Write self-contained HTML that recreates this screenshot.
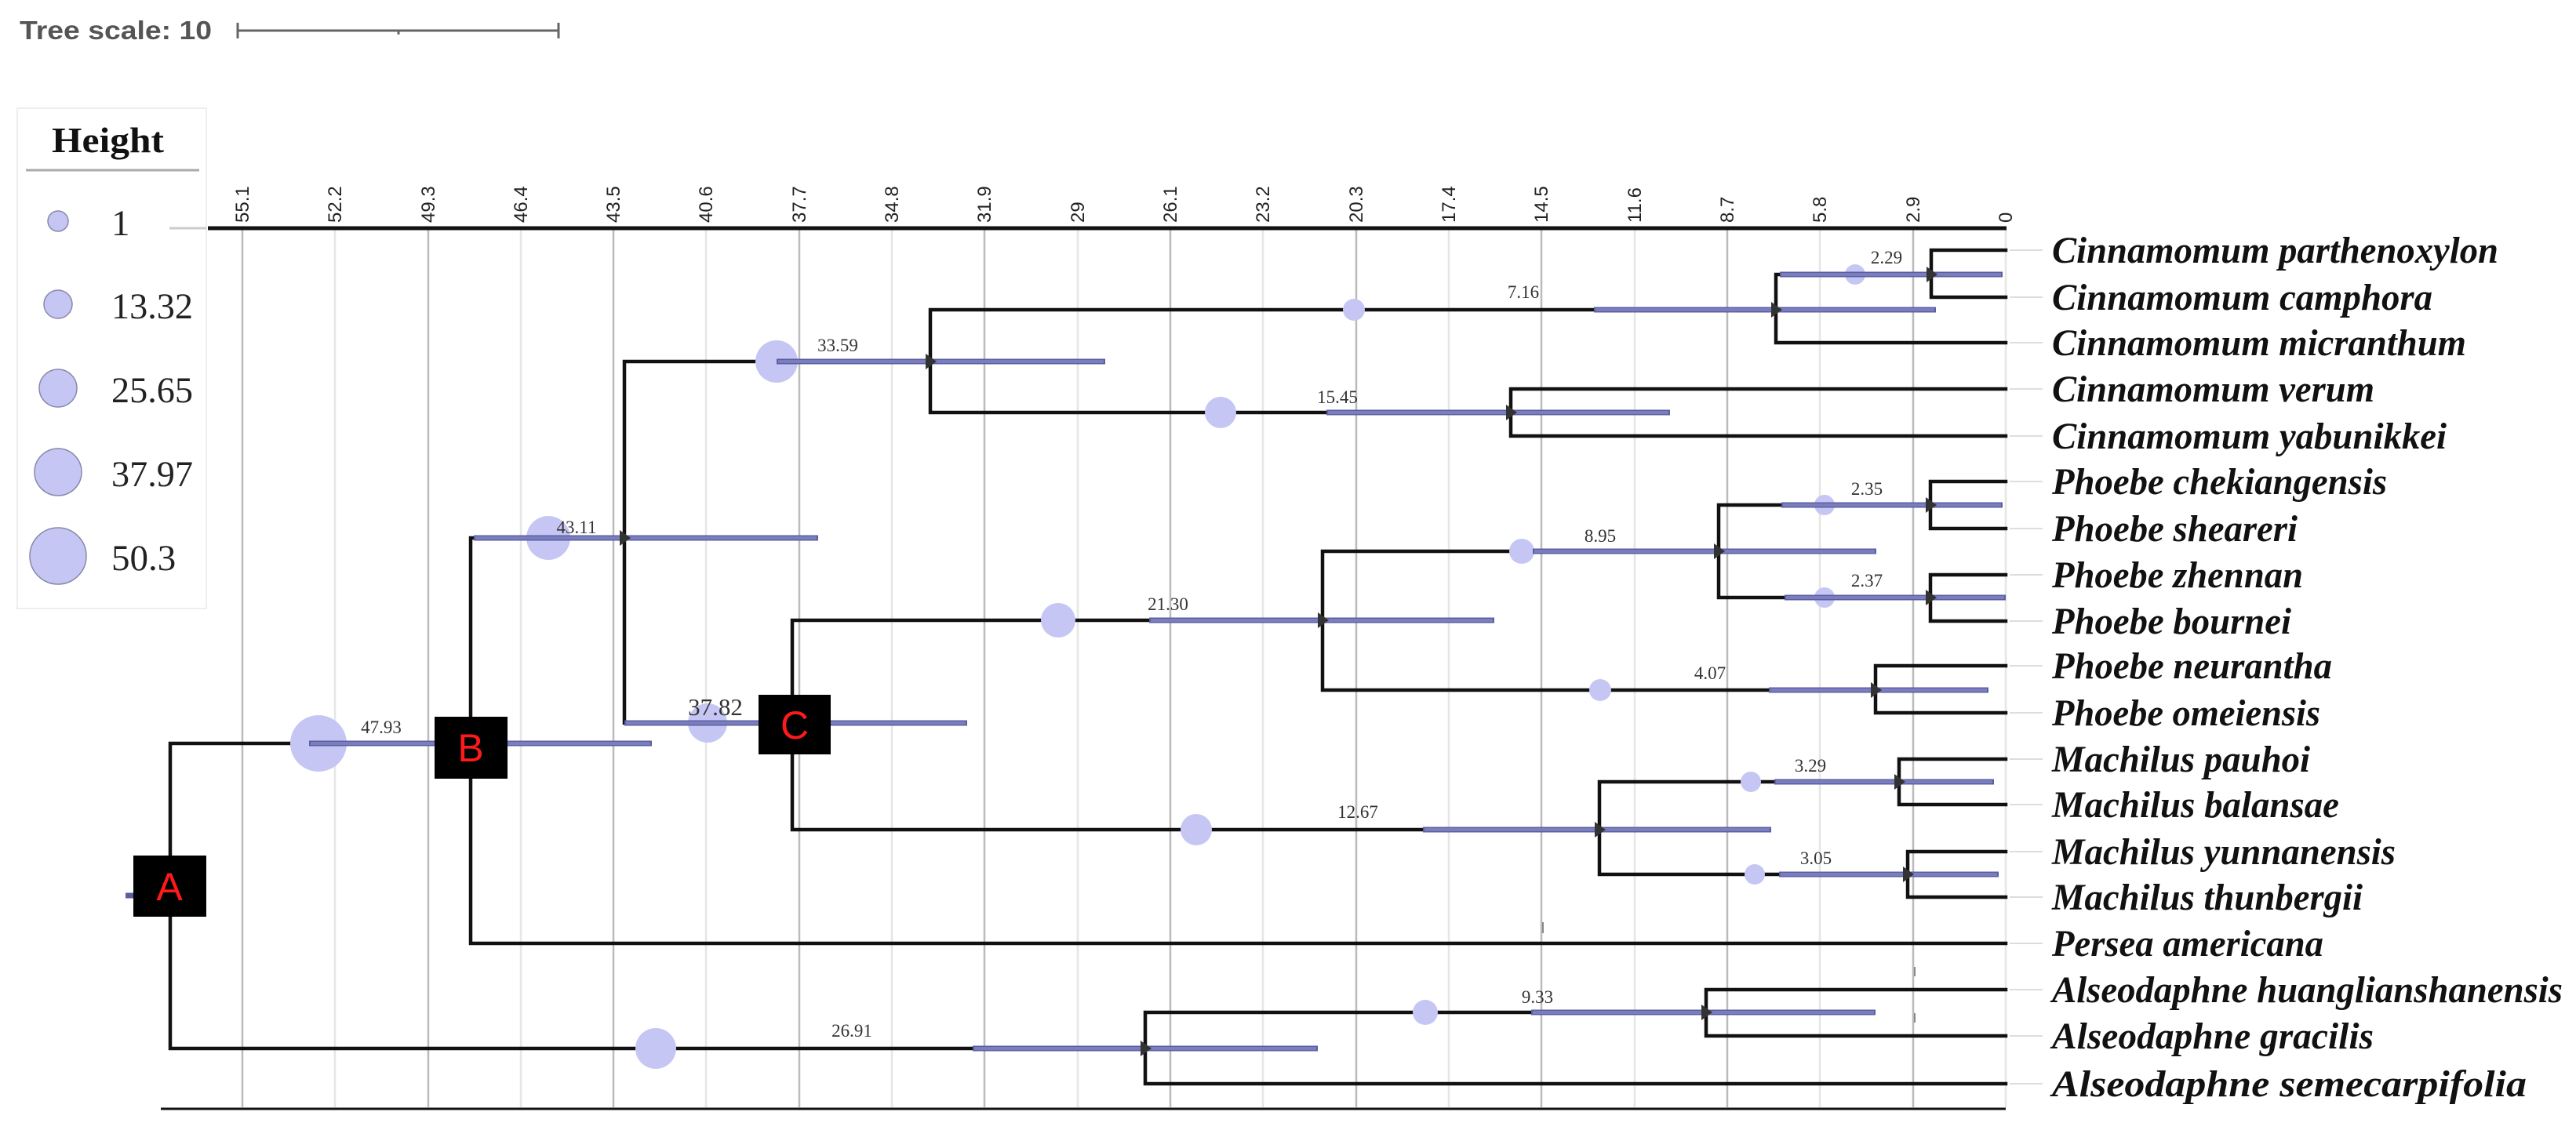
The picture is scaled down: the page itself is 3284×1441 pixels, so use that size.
<!DOCTYPE html>
<html><head><meta charset="utf-8"><style>
html,body{margin:0;padding:0;background:#fff}
svg{display:block}
.br{stroke:#111;stroke-width:4.5;fill:none;stroke-linecap:square}
.bar{stroke:#5c5f9e;stroke-width:7;fill:none}
.bar2{stroke:#7a7dc0;stroke-width:4;fill:none}
.cir{fill:#c6c6f4}
.nl{font-family:"Liberation Serif",serif;font-size:23px;fill:#333;text-anchor:middle}
.tax{font-family:"Liberation Serif",serif;font-weight:bold;font-style:italic;font-size:48px;fill:#111}
.ax{font-family:"Liberation Sans",sans-serif;font-size:24px;fill:#222}
.lg{font-family:"Liberation Serif",serif;font-size:47px;fill:#222}
.bx{font-family:"Liberation Sans",sans-serif;font-size:50px;fill:#ff1a1a;text-anchor:middle}
</style></head><body>
<svg width="3284" height="1441" viewBox="0 0 3284 1441" xmlns="http://www.w3.org/2000/svg">
<rect width="3284" height="1441" fill="#fff"/>
<!-- tree scale -->
<text x="25" y="50" font-family="Liberation Sans,sans-serif" font-weight="bold" font-size="33" fill="#555" textLength="245" lengthAdjust="spacingAndGlyphs">Tree scale: 10</text>
<g stroke="#666" stroke-width="3"><line x1="303" y1="39" x2="712" y2="39"/><line x1="303" y1="29" x2="303" y2="49"/><line x1="712" y1="29" x2="712" y2="49"/><line x1="508" y1="39" x2="508" y2="44"/></g>
<!-- legend -->
<rect x="22" y="138" width="241" height="638" fill="none" stroke="#eee" stroke-width="2"/>
<text x="66" y="194" font-family="Liberation Serif,serif" font-weight="bold" font-size="46" fill="#111" textLength="143" lengthAdjust="spacingAndGlyphs">Height</text>
<line x1="33" y1="217" x2="254" y2="217" stroke="#aaa" stroke-width="3"/>
<line x1="216" y1="291" x2="263" y2="291" stroke="#ccc" stroke-width="3"/>
<g fill="#c6c6f4" stroke="#8888aa" stroke-width="1.5">
<circle cx="74" cy="282" r="13"/><circle cx="74" cy="388" r="18"/><circle cx="74" cy="495" r="24"/><circle cx="74" cy="602" r="30"/><circle cx="74" cy="709" r="36"/></g>
<text class="lg" x="142" y="300">1</text>
<text class="lg" x="142" y="406" textLength="104" lengthAdjust="spacingAndGlyphs">13.32</text>
<text class="lg" x="142" y="513" textLength="104" lengthAdjust="spacingAndGlyphs">25.65</text>
<text class="lg" x="142" y="620" textLength="104" lengthAdjust="spacingAndGlyphs">37.97</text>
<text class="lg" x="142" y="727">50.3</text>
<!-- grid -->
<g stroke-width="2.5">
<line x1="309" y1="291" x2="309" y2="1412" stroke="#bbb"/><line x1="427" y1="291" x2="427" y2="1412" stroke="#e6e6e6"/>
<line x1="546" y1="291" x2="546" y2="1412" stroke="#bbb"/><line x1="664" y1="291" x2="664" y2="1412" stroke="#e6e6e6"/>
<line x1="782" y1="291" x2="782" y2="1412" stroke="#bbb"/><line x1="900" y1="291" x2="900" y2="1412" stroke="#e6e6e6"/>
<line x1="1019" y1="291" x2="1019" y2="1412" stroke="#bbb"/><line x1="1137" y1="291" x2="1137" y2="1412" stroke="#e6e6e6"/>
<line x1="1255" y1="291" x2="1255" y2="1412" stroke="#bbb"/><line x1="1374" y1="291" x2="1374" y2="1412" stroke="#e6e6e6"/>
<line x1="1492" y1="291" x2="1492" y2="1412" stroke="#bbb"/><line x1="1610" y1="291" x2="1610" y2="1412" stroke="#e6e6e6"/>
<line x1="1729" y1="291" x2="1729" y2="1412" stroke="#bbb"/><line x1="1847" y1="291" x2="1847" y2="1412" stroke="#e6e6e6"/>
<line x1="1965" y1="291" x2="1965" y2="1412" stroke="#bbb"/><line x1="2084" y1="291" x2="2084" y2="1412" stroke="#e6e6e6"/>
<line x1="2202" y1="291" x2="2202" y2="1412" stroke="#bbb"/><line x1="2320" y1="291" x2="2320" y2="1412" stroke="#e6e6e6"/>
<line x1="2439" y1="291" x2="2439" y2="1412" stroke="#bbb"/><line x1="2557" y1="291" x2="2557" y2="1412" stroke="#e6e6e6"/>
</g>
<line x1="265" y1="291" x2="2558" y2="291" stroke="#111" stroke-width="5"/>
<line x1="205" y1="1414" x2="2557" y2="1414" stroke="#111" stroke-width="3"/>
<g class="ax">
<text transform="translate(317,284) rotate(-90)">55.1</text><text transform="translate(435,284) rotate(-90)">52.2</text>
<text transform="translate(554,284) rotate(-90)">49.3</text><text transform="translate(672,284) rotate(-90)">46.4</text>
<text transform="translate(790,284) rotate(-90)">43.5</text><text transform="translate(908,284) rotate(-90)">40.6</text>
<text transform="translate(1027,284) rotate(-90)">37.7</text><text transform="translate(1145,284) rotate(-90)">34.8</text>
<text transform="translate(1263,284) rotate(-90)">31.9</text><text transform="translate(1382,284) rotate(-90)">29</text>
<text transform="translate(1500,284) rotate(-90)">26.1</text><text transform="translate(1618,284) rotate(-90)">23.2</text>
<text transform="translate(1737,284) rotate(-90)">20.3</text><text transform="translate(1855,284) rotate(-90)">17.4</text>
<text transform="translate(1973,284) rotate(-90)">14.5</text><text transform="translate(2092,284) rotate(-90)">11.6</text>
<text transform="translate(2210,284) rotate(-90)">8.7</text><text transform="translate(2328,284) rotate(-90)">5.8</text>
<text transform="translate(2447,284) rotate(-90)">2.9</text><text transform="translate(2565,284) rotate(-90)">0</text>
</g>
<!-- leader dashes -->
<g stroke="#ddd" stroke-width="2">
<line x1="2562" y1="319" x2="2604" y2="319"/><line x1="2562" y1="379" x2="2604" y2="379"/><line x1="2562" y1="437" x2="2604" y2="437"/>
<line x1="2562" y1="496" x2="2604" y2="496"/><line x1="2562" y1="556" x2="2604" y2="556"/><line x1="2562" y1="614" x2="2604" y2="614"/>
<line x1="2562" y1="674" x2="2604" y2="674"/><line x1="2562" y1="733" x2="2604" y2="733"/><line x1="2562" y1="792" x2="2604" y2="792"/>
<line x1="2562" y1="849" x2="2604" y2="849"/><line x1="2562" y1="909" x2="2604" y2="909"/><line x1="2562" y1="968" x2="2604" y2="968"/>
<line x1="2562" y1="1026" x2="2604" y2="1026"/><line x1="2562" y1="1086" x2="2604" y2="1086"/><line x1="2562" y1="1144" x2="2604" y2="1144"/>
<line x1="2562" y1="1203" x2="2604" y2="1203"/><line x1="2562" y1="1262" x2="2604" y2="1262"/><line x1="2562" y1="1321" x2="2604" y2="1321"/>
<line x1="2562" y1="1382" x2="2604" y2="1382"/></g>
<!-- branches -->
<path class="br" d="
M217 948V1337 M217 948H600 M217 1337H1460
M600 686V1203 M600 686H796 M600 1203H2557
M796 461V922 M796 461H1186 M796 922H1010
M1186 395V526 M1186 395H2264 M1186 526H1926
M2264 350V437 M2264 350H2462 M2264 437H2557
M2462 319V379 M2462 319H2557 M2462 379H2557
M1926 496V556 M1926 496H2557 M1926 556H2557
M1010 791V1058 M1010 791H1686 M1010 1058H2039
M1686 703V880 M1686 703H2191 M1686 880H2391
M2191 644V762 M2191 644H2461 M2191 762H2461
M2461 614V674 M2461 614H2557 M2461 674H2557
M2461 733V792 M2461 733H2557 M2461 792H2557
M2391 849V909 M2391 849H2557 M2391 909H2557
M2039 997V1115 M2039 997H2421 M2039 1115H2432
M2421 968V1026 M2421 968H2557 M2421 1026H2557
M2432 1086V1144 M2432 1086H2557 M2432 1144H2557
M1460 1291V1382 M1460 1291H2175 M1460 1382H2557
M2175 1262V1321 M2175 1262H2557 M2175 1321H2557"/>
<!-- circles -->
<g class="cir">
<circle cx="406" cy="948" r="36"/><circle cx="699" cy="686" r="28"/><circle cx="902" cy="922" r="25"/><circle cx="990" cy="461" r="27"/>
<circle cx="1726" cy="395" r="14"/><circle cx="2365" cy="350" r="13"/><circle cx="1556" cy="526" r="20"/><circle cx="1349" cy="791" r="22"/>
<circle cx="1940" cy="703" r="16"/><circle cx="2326" cy="644" r="13"/><circle cx="2326" cy="762" r="13"/><circle cx="2040" cy="880" r="14"/>
<circle cx="1525" cy="1058" r="20"/><circle cx="2232" cy="997" r="13"/><circle cx="2237" cy="1115" r="13"/><circle cx="836" cy="1337" r="26"/>
<circle cx="1817" cy="1291" r="16"/></g>
<!-- bars -->
<path class="bar" d="M394 948H831 M604 686H1043 M796 922H1233 M990 461H1409 M2032 395H2468 M2269 350H2553 M1691 526H2129 M1465 791H1905
M1954 703H2392 M2271 644H2553 M2275 762H2557 M2255 880H2535 M1814 1058H2258 M2262 997H2542 M2268 1115H2548 M1240 1337H1680 M1952 1291H2391 M160 1142H205"/>
<path class="bar2" d="M396 948H829 M606 686H1041 M798 922H1231 M992 461H1407 M2034 395H2466 M2271 350H2551 M1693 526H2127 M1467 791H1903
M1956 703H2390 M2273 644H2551 M2277 762H2555 M2257 880H2533 M1816 1058H2256 M2264 997H2540 M2270 1115H2546 M1242 1337H1678 M1954 1291H2389"/>
<!-- node ticks -->
<g fill="#333">
<path d="M790 676l14 10-14 10z"/><path d="M1180 451l14 10-14 10z"/><path d="M2258 385l14 10-14 10z"/><path d="M2456 340l14 10-14 10z"/>
<path d="M1920 516l14 10-14 10z"/><path d="M1680 781l14 10-14 10z"/><path d="M2185 693l14 10-14 10z"/><path d="M2455 634l14 10-14 10z"/>
<path d="M2455 752l14 10-14 10z"/><path d="M2385 870l14 10-14 10z"/><path d="M2033 1048l14 10-14 10z"/><path d="M2415 987l14 10-14 10z"/>
<path d="M2426 1105l14 10-14 10z"/><path d="M1454 1327l14 10-14 10z"/><path d="M2169 1281l14 10-14 10z"/></g>
<g stroke="#888" stroke-width="2"><line x1="1967" y1="1176" x2="1967" y2="1190"/><line x1="2441" y1="1233" x2="2441" y2="1245"/><line x1="2441" y1="1292" x2="2441" y2="1304"/></g>
<!-- node labels -->
<g class="nl">
<text x="486" y="935">47.93</text><text x="735" y="680">43.11</text><text x="1068" y="448">33.59</text>
<text x="1942" y="380">7.16</text><text x="2405" y="336">2.29</text><text x="1705" y="514">15.45</text><text x="1489" y="778">21.30</text>
<text x="2040" y="691">8.95</text><text x="2380" y="631">2.35</text><text x="2380" y="748">2.37</text><text x="2180" y="866">4.07</text>
<text x="1731" y="1043">12.67</text><text x="2308" y="984">3.29</text><text x="2315" y="1102">3.05</text><text x="1086" y="1322">26.91</text>
<text x="1960" y="1279">9.33</text>
<text x="912" y="912" font-size="31">37.82</text></g>
<!-- boxes -->
<rect x="170" y="1091" width="93" height="78" fill="#000"/><text class="bx" x="216" y="1148">A</text>
<rect x="554" y="914" width="93" height="79" fill="#000"/><text class="bx" x="600" y="971">B</text>
<rect x="967" y="886" width="92" height="76" fill="#000"/><text class="bx" x="1013" y="942">C</text>
<!-- taxa -->
<g class="tax">
<text x="2616" y="335" textLength="569" lengthAdjust="spacingAndGlyphs">Cinnamomum parthenoxylon</text>
<text x="2616" y="395" textLength="485" lengthAdjust="spacingAndGlyphs">Cinnamomum camphora</text>
<text x="2616" y="453" textLength="528" lengthAdjust="spacingAndGlyphs">Cinnamomum micranthum</text>
<text x="2616" y="512" textLength="411" lengthAdjust="spacingAndGlyphs">Cinnamomum verum</text>
<text x="2616" y="572" textLength="503" lengthAdjust="spacingAndGlyphs">Cinnamomum yabunikkei</text>
<text x="2616" y="630" textLength="427" lengthAdjust="spacingAndGlyphs">Phoebe chekiangensis</text>
<text x="2616" y="690" textLength="313" lengthAdjust="spacingAndGlyphs">Phoebe sheareri</text>
<text x="2616" y="749" textLength="320" lengthAdjust="spacingAndGlyphs">Phoebe zhennan</text>
<text x="2616" y="808" textLength="305" lengthAdjust="spacingAndGlyphs">Phoebe bournei</text>
<text x="2616" y="865" textLength="357" lengthAdjust="spacingAndGlyphs">Phoebe neurantha</text>
<text x="2616" y="925" textLength="342" lengthAdjust="spacingAndGlyphs">Phoebe omeiensis</text>
<text x="2616" y="984" textLength="329" lengthAdjust="spacingAndGlyphs">Machilus pauhoi</text>
<text x="2616" y="1042" textLength="366" lengthAdjust="spacingAndGlyphs">Machilus balansae</text>
<text x="2616" y="1102" textLength="438" lengthAdjust="spacingAndGlyphs">Machilus yunnanensis</text>
<text x="2616" y="1160" textLength="396" lengthAdjust="spacingAndGlyphs">Machilus thunbergii</text>
<text x="2616" y="1219" textLength="346" lengthAdjust="spacingAndGlyphs">Persea americana</text>
<text x="2616" y="1278" textLength="651" lengthAdjust="spacingAndGlyphs">Alseodaphne huanglianshanensis</text>
<text x="2616" y="1337" textLength="410" lengthAdjust="spacingAndGlyphs">Alseodaphne gracilis</text>
<text x="2616" y="1398" textLength="605" lengthAdjust="spacingAndGlyphs">Alseodaphne semecarpifolia</text>
</g>
</svg>
</body></html>
